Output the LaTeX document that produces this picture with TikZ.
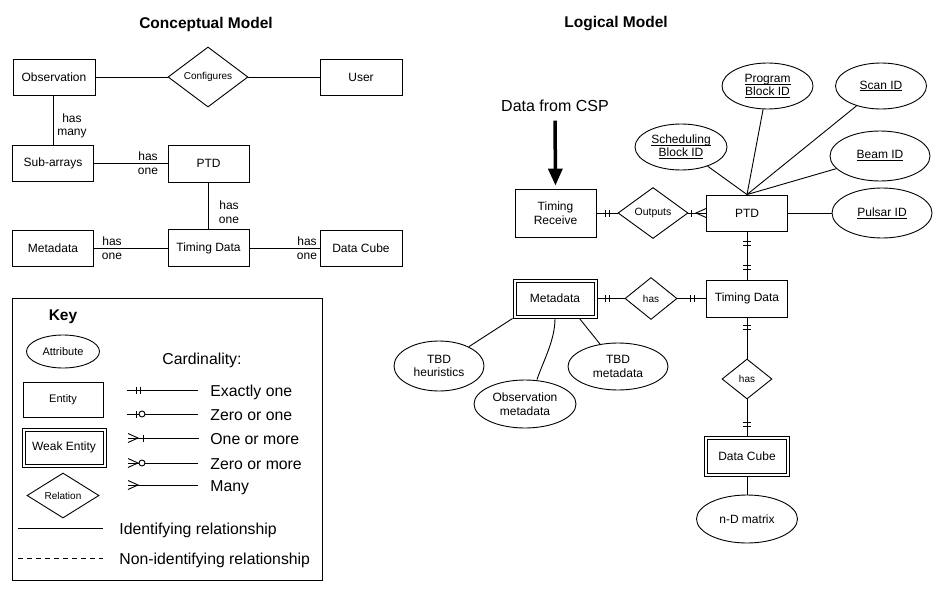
\documentclass[tikz,border=0pt]{standalone}
\usepackage{fontspec}
\setmainfont{Liberation Sans}
\usetikzlibrary{arrows.meta,shapes.geometric,calc}
\newcommand\fsEnt{\fontsize{12}{13.5}\selectfont}
\newcommand\fsKey{\fontsize{11}{13}\selectfont}
\newcommand\fsRel{\fontsize{10}{12}\selectfont}
\newcommand\fsBig{\fontsize{15.8}{18}\selectfont}
\newcommand\fsTtl{\fontsize{15.5}{18}\selectfont}
\newcommand\ulin[1]{\setbox0\hbox{#1}\rlap{\vrule width\wd0 height -1.4pt depth 2.3pt}\box0}
\begin{document}
\begin{tikzpicture}[x=1pt,y=-1pt, line width=0.9pt,
  sz/.style 2 args={minimum width=#1pt, minimum height=#2pt},
  ent/.style={draw, rectangle, inner sep=0pt, align=center, font=\fsEnt},
  weak/.style={ent, path picture={\draw[line width=0.9pt]
      ([shift={(3pt,-3pt)}]path picture bounding box.north west) rectangle
      ([shift={(-3pt,3pt)}]path picture bounding box.south east);}},
  attr/.style={draw, ellipse, inner sep=0pt, align=center, font=\fsEnt},
  rel/.style={draw, diamond, inner sep=0pt, shape aspect=1.5, align=center, font=\fsRel},
  lbl/.style={inner sep=0pt, align=center, font=\fsEnt},
  keytxt/.style={inner sep=0pt, anchor=base west, font=\fsBig},
  ttl/.style={inner sep=0pt, font=\bfseries\fsTtl},
]
\useasboundingbox[fill=white] (0,0) rectangle (942,591);

% ---------------- Conceptual model ----------------
\node[ttl] (titleC) at (206,24) {Conceptual Model};
\node[ent, sz={82}{36}] (obs) at (54,77) {Observation};
\node[rel, sz={80}{60}] (conf) at (208,77) {Configures};
\node[ent, sz={82}{36}] (user) at (361,77) {User};
\node[ent, sz={81}{36}] (sub) at (53,163.5) {Sub-arrays};
\node[ent, sz={81}{37}] (ptdC) at (208.5,163.5) {PTD};
\node[ent, sz={81}{36}] (metaC) at (53,248) {Metadata};
\node[ent, sz={81}{37}] (tdC) at (208.5,248) {Timing Data};
\node[ent, sz={82}{36}] (cubeC) at (361,248) {Data Cube};

\draw (obs) -- (conf);
\draw (conf) -- (user);
\draw (sub.north |- obs.south) -- (sub.north);
\draw (sub) -- (ptdC);
\draw (ptdC) -- (tdC);
\draw (metaC) -- (tdC);
\draw (tdC) -- (cubeC);

\node[lbl] (l1) at (72,126) {has\\many};
\node[lbl] (l2) at (148,163) {has\\one};
\node[lbl] (l3) at (229,212) {has\\one};
\node[lbl] (l4) at (112,248) {has\\one};
\node[lbl] (l5) at (307,248) {has\\one};

% ---------------- Key ----------------
\node[draw, sz={310}{282}, inner sep=0pt] (keybox) at (167,439) {};
\node[ttl] (keyt) at (63,317) {Key};
\node[attr, sz={73}{33}, font=\fsKey] (kattr) at (63,351.5) {Attribute};
\node[ent, sz={80}{35}, font=\fsKey] (kent) at (63,399.5) {Entity};
\node[weak, sz={84}{39}] (kweak) at (64,447.5) {Weak Entity};
\node[rel, sz={72}{45}] (krel) at (63,495.5) {Relation};
\node[inner sep=0pt, font=\fsBig] (card) at (202,360) {Cardinality:};

% exactly one
\coordinate (c1a) at (127,390); \coordinate (c1b) at (198,390);
\draw (c1a) -- (c1b);
\draw (136,386.5) -- (136,393.5); \draw (140,386.5) -- (140,393.5);
\node[keytxt] (t1) at (210,396) {Exactly one};
% zero or one
\coordinate (c2a) at (127,414); \coordinate (c2b) at (198,414);
\draw (c2a) -- (c2b);
\draw (136,410.5) -- (136,417.5);
\draw[fill=white] (142,414) circle[radius=3pt];
\node[keytxt] (t2) at (210,420) {Zero or one};
% one or more
\coordinate (c3a) at (128,438); \coordinate (c3b) at (199,438);
\draw (c3a) -- (c3b);
\draw (128,433.5) -- (138,438) -- (128,442.5);
\draw (143,434.5) -- (143,441.5);
\node[keytxt] (t3) at (210,444) {One or more};
% zero or more
\coordinate (c4a) at (128,463); \coordinate (c4b) at (198,463);
\draw (c4a) -- (c4b);
\draw (128,458.5) -- (138,463) -- (128,467.5);
\draw[fill=white] (142,463) circle[radius=3pt];
\node[keytxt] (t4) at (210,469) {Zero or more};
% many
\coordinate (c5a) at (128,485); \coordinate (c5b) at (198,485);
\draw (c5a) -- (c5b);
\draw (128,480.5) -- (138,485) -- (128,489.5);
\node[keytxt] (t5) at (210,491) {Many};
% relationships
\coordinate (r1a) at (18,528); \coordinate (r1b) at (103,528);
\draw (r1a) -- (r1b);
\node[keytxt] (t6) at (119,534.5) {Identifying relationship};
\coordinate (r2a) at (18,558); \coordinate (r2b) at (103,558);
\draw[dash pattern=on 5pt off 4pt] (r2a) -- (r2b);
\node[keytxt] (t7) at (119,564.5) {Non-identifying relationship};

% ---------------- Logical model ----------------
\node[ttl] (titleL) at (616,24) {Logical Model};
\node[inner sep=0pt, anchor=base, font=\fontsize{16}{19}\selectfont] (csp) at (555,112) {Data from CSP};
\node[ent, sz={81}{48}] (tr) at (555.5,213) {Timing\\Receive};
\draw[line width=3.5pt, -{Triangle[length=17pt,width=14pt]}, shorten <=8pt, shorten >=3pt] (csp.south) -- (tr.north);

\node[rel, sz={70}{51}, font=\fontsize{10.5}{12}\selectfont] (outp) at (653,213) {Outputs};
\node[ent, sz={81}{36}] (ptd) at (747,213) {PTD};
\draw (tr) -- (outp);
\draw (outp) -- (ptd);
\draw ($(tr.east)+(9,-3.5)$) -- ++(0,7);
\draw ($(tr.east)+(13,-3.5)$) -- ++(0,7);
\draw ($(ptd.west)+(0,-4.5)$) -- ($(ptd.west)+(-10,0)$) -- ($(ptd.west)+(0,4.5)$);
\draw ($(ptd.west)+(-15,-3.5)$) -- ++(0,7);

\node[attr, sz={92}{46}] (sbid) at (681,147) {\ulin{Scheduling}\\\ulin{Block ID}};
\node[attr, sz={91}{46}] (pbid) at (767.5,86) {\ulin{Program}\\\ulin{Block ID}};
\node[attr, sz={91}{46}] (scan) at (881,86) {\ulin{Scan ID}};
\node[attr, sz={100}{50}] (beam) at (880,156) {\ulin{Beam ID}};
\node[attr, sz={100}{50}] (pulsar) at (882,213) {\ulin{Pulsar ID}};
\draw (ptd.north) -- (sbid);
\draw (ptd.north) -- (pbid);
\draw (ptd.north) -- (scan);
\draw (ptd.north) -- (beam);
\draw (ptd) -- (pulsar);

\node[ent, sz={81}{37}] (td) at (747,298.5) {Timing Data};
\draw (ptd) -- (td);
\draw ($(ptd.south)+(-4,10)$) -- ++(8,0);
\draw ($(ptd.south)+(-4,14)$) -- ++(8,0);
\draw ($(td.north)+(-4,-14)$) -- ++(8,0);
\draw ($(td.north)+(-4,-10)$) -- ++(8,0);

\node[weak, sz={84}{39}] (metaL) at (555,298.5) {Metadata};
\node[rel, sz={52}{42}] (hasM) at (651,298.5) {has};
\draw (metaL) -- (hasM);
\draw (hasM) -- (td);
\draw ($(metaL.east)+(8,-3.5)$) -- ++(0,7);
\draw ($(metaL.east)+(12,-3.5)$) -- ++(0,7);
\draw ($(td.west)+(-16,-3.5)$) -- ++(0,7);
\draw ($(td.west)+(-12,-3.5)$) -- ++(0,7);

\node[rel, sz={50}{40}] (hasD) at (747,379) {has};
\node[weak, sz={85}{40}] (cubeL) at (747,456) {Data Cube};
\node[attr, sz={101}{48}] (ndm) at (747,519) {n-D matrix};
\draw (td) -- (hasD);
\draw (hasD) -- (cubeL);
\draw (cubeL) -- (ndm);
\draw ($(td.south)+(-4,8)$) -- ++(8,0);
\draw ($(td.south)+(-4,12)$) -- ++(8,0);
\draw ($(cubeL.north)+(-4,-13)$) -- ++(8,0);
\draw ($(cubeL.north)+(-4,-9)$) -- ++(8,0);

\node[attr, sz={90}{50}] (heur) at (439,366) {TBD\\heuristics};
\node[attr, sz={102}{48}] (obsm) at (525,404) {Observation\\metadata};
\node[attr, sz={100}{47}] (tbdm) at (618,366.5) {TBD\\metadata};
\draw (metaL.south west) -- (heur);
\draw (metaL.south) .. controls +(0,22) and +(6,-18) .. ([xshift=12pt]obsm.north);
\draw ([xshift=-18pt]metaL.south east) -- (tbdm);
\end{tikzpicture}
\end{document}
